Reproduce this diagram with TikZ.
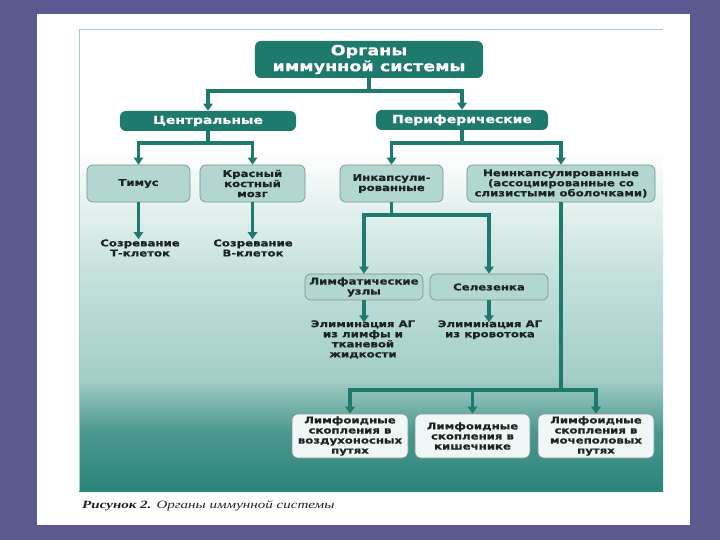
\documentclass[tikz,border=0pt]{standalone}
\usepackage{fontspec}
\setmainfont{DejaVu Sans}
\newfontfamily\boxfont[FakeStretch=1.25, BoldFeatures={FakeBold=0.6}]{DejaVu Sans}
\newfontfamily\capfont[FakeStretch=1.35]{Liberation Serif}
\usepackage{xcolor}
\usepackage{tikz}
\usetikzlibrary{arrows.meta,positioning}

\definecolor{slidebg}{HTML}{5C5990}
\definecolor{tealdark}{HTML}{1E7A6C}
\definecolor{boxfill}{HTML}{B2D7D0}
\definecolor{boxline}{HTML}{7E918E}
\definecolor{textdark}{HTML}{1C2422}
\definecolor{gradA}{HTML}{C6E2DD}
\definecolor{gradB}{HTML}{A2CDC6}
\definecolor{gradC}{HTML}{4A988F}
\definecolor{gradD}{HTML}{2A8479}

\begin{document}
\begin{tikzpicture}[
    x=0.03cm, y=-0.03cm,
    box/.style={rounded corners=5pt, inner sep=0pt, align=center, font=\boxfont\bfseries\fontsize{8}{8.6}\selectfont},
    head/.style={box, fill=tealdark, text=white},
    organ/.style={box, fill=boxfill, draw=boxline, line width=0.6pt, text=textdark},
    note/.style={inner sep=0pt, align=center, text=textdark, font=\boxfont\bfseries\fontsize{8}{8.6}\selectfont},
    ln/.style={draw=tealdark, line width=3.2pt},
    arr/.style={ln, -{Triangle[length=6pt, width=8pt]}}
]
\useasboundingbox (0,0) rectangle (720,540);
% slide and figure background
\fill[slidebg] (0,0) rectangle (720,540);
\fill[white] (37,14) rectangle (690,525);
\shade[top color=white, bottom color=gradA] (79,150) rectangle (663,270);
\shade[top color=gradA, bottom color=gradB] (79,270) rectangle (663,380);
\shade[top color=gradB, bottom color=gradC] (79,380) rectangle (663,432);
\shade[top color=gradC, bottom color=gradD] (79,432) rectangle (663,491);
\draw[gradB, line width=0.8pt] (79,491) |- (663,29);

% top levels
\node[head, minimum width=6.84cm, minimum height=1.11cm, font=\boxfont\bfseries\fontsize{12}{13.6}\selectfont] (title) at (369,59.5) {Органы\\иммунной системы};
\node[head, minimum width=5.28cm, minimum height=0.6cm, font=\boxfont\bfseries\fontsize{9.5}{10}\selectfont] (cen) at (208,121) {Центральные};
\node[head, minimum width=5.16cm, minimum height=0.6cm, font=\boxfont\bfseries\fontsize{9.5}{10}\selectfont] (per) at (462,120) {Периферические};

% organs
\node[organ, minimum width=3.09cm, minimum height=1.11cm] (thym) at (138.5,183.5) {Тимус};
\node[organ, minimum width=3.15cm, minimum height=1.11cm] (marrow) at (252.5,183.5) {Красный\\костный\\мозг};
\node[organ, minimum width=3.09cm, minimum height=1.11cm] (enc) at (391.5,183.5) {Инкапсули-\\рованные};
\node[organ, minimum width=5.64cm, minimum height=1.11cm] (nonenc) at (561,183.5) {Неинкапсулированные\\(ассоциированные со\\слизистыми оболочками)};
\node[note] (tmat) at (140,248) {Созревание\\Т-клеток};
\node[note] (bmat) at (253,248) {Созревание\\В-клеток};

\node[organ, minimum width=3.54cm, minimum height=0.78cm] (lymph) at (364,287) {Лимфатические\\узлы};
\node[organ, minimum width=3.54cm, minimum height=0.78cm] (spleen) at (489,287) {Селезенка};
\node[note, anchor=north] (elim1) at (363,320) {Элиминация АГ\\из лимфы и\\тканевой\\жидкости};
\node[note, anchor=north] (elim2) at (490,320) {Элиминация АГ\\из кровотока};

\node[organ, fill=white!80!boxfill, minimum width=3.48cm, minimum height=1.32cm] (air) at (350,436) {Лимфоидные\\скопления в\\воздухоносных\\путях};
\node[organ, fill=white!80!boxfill, minimum width=3.45cm, minimum height=1.32cm] (gut) at (472.5,436) {Лимфоидные\\скопления в\\кишечнике};
\node[organ, fill=white!80!boxfill, minimum width=3.48cm, minimum height=1.32cm] (uro) at (596,436) {Лимфоидные\\скопления в\\мочеполовых\\путях};

% connectors
\draw[ln] (title.south) -- ++(0,13) coordinate (b1);
\draw[arr] (b1) -| (cen.north);
\draw[arr] (b1) -| (per.north);
\draw[ln] (cen.south) -- ++(0,12) coordinate (b2);
\draw[arr] (b2) -| (thym.north);
\draw[arr] (b2) -| (marrow.north);
\draw[ln] (per.south) -- ++(0,13) coordinate (b3);
\draw[arr] (b3) -| (enc.north);
\draw[arr] (b3) -| (nonenc.north);
\draw[arr] (thym.south) -- (thym.south |- tmat.north);
\draw[arr] (marrow.south) -- (marrow.south |- bmat.north);
\draw[ln] (enc.south) -- ++(0,13) coordinate (b4);
\draw[arr] (b4) -| (lymph.north);
\draw[arr] (b4) -| (spleen.north);
\draw[arr] (lymph.south) -- ([yshift=-2pt]lymph.south |- elim1.north);
\draw[arr] (spleen.south) -- ([yshift=-2pt]spleen.south |- elim2.north);
\draw[ln] (nonenc.south) -- ++(0,188) coordinate (b5);
\draw[arr] (b5) -| (air.north);
\draw[arr] (b5) -| (uro.north);
\draw[arr] (b5 -| gut.north) -- (gut.north);

% caption
\node[anchor=west, inner sep=0pt, text=textdark, font=\capfont\itshape\fontsize{9.5}{10}\selectfont] (cap) at (82,506) {{\bfseries Рисунок 2.} Органы иммунной системы};
\end{tikzpicture}
\end{document}
